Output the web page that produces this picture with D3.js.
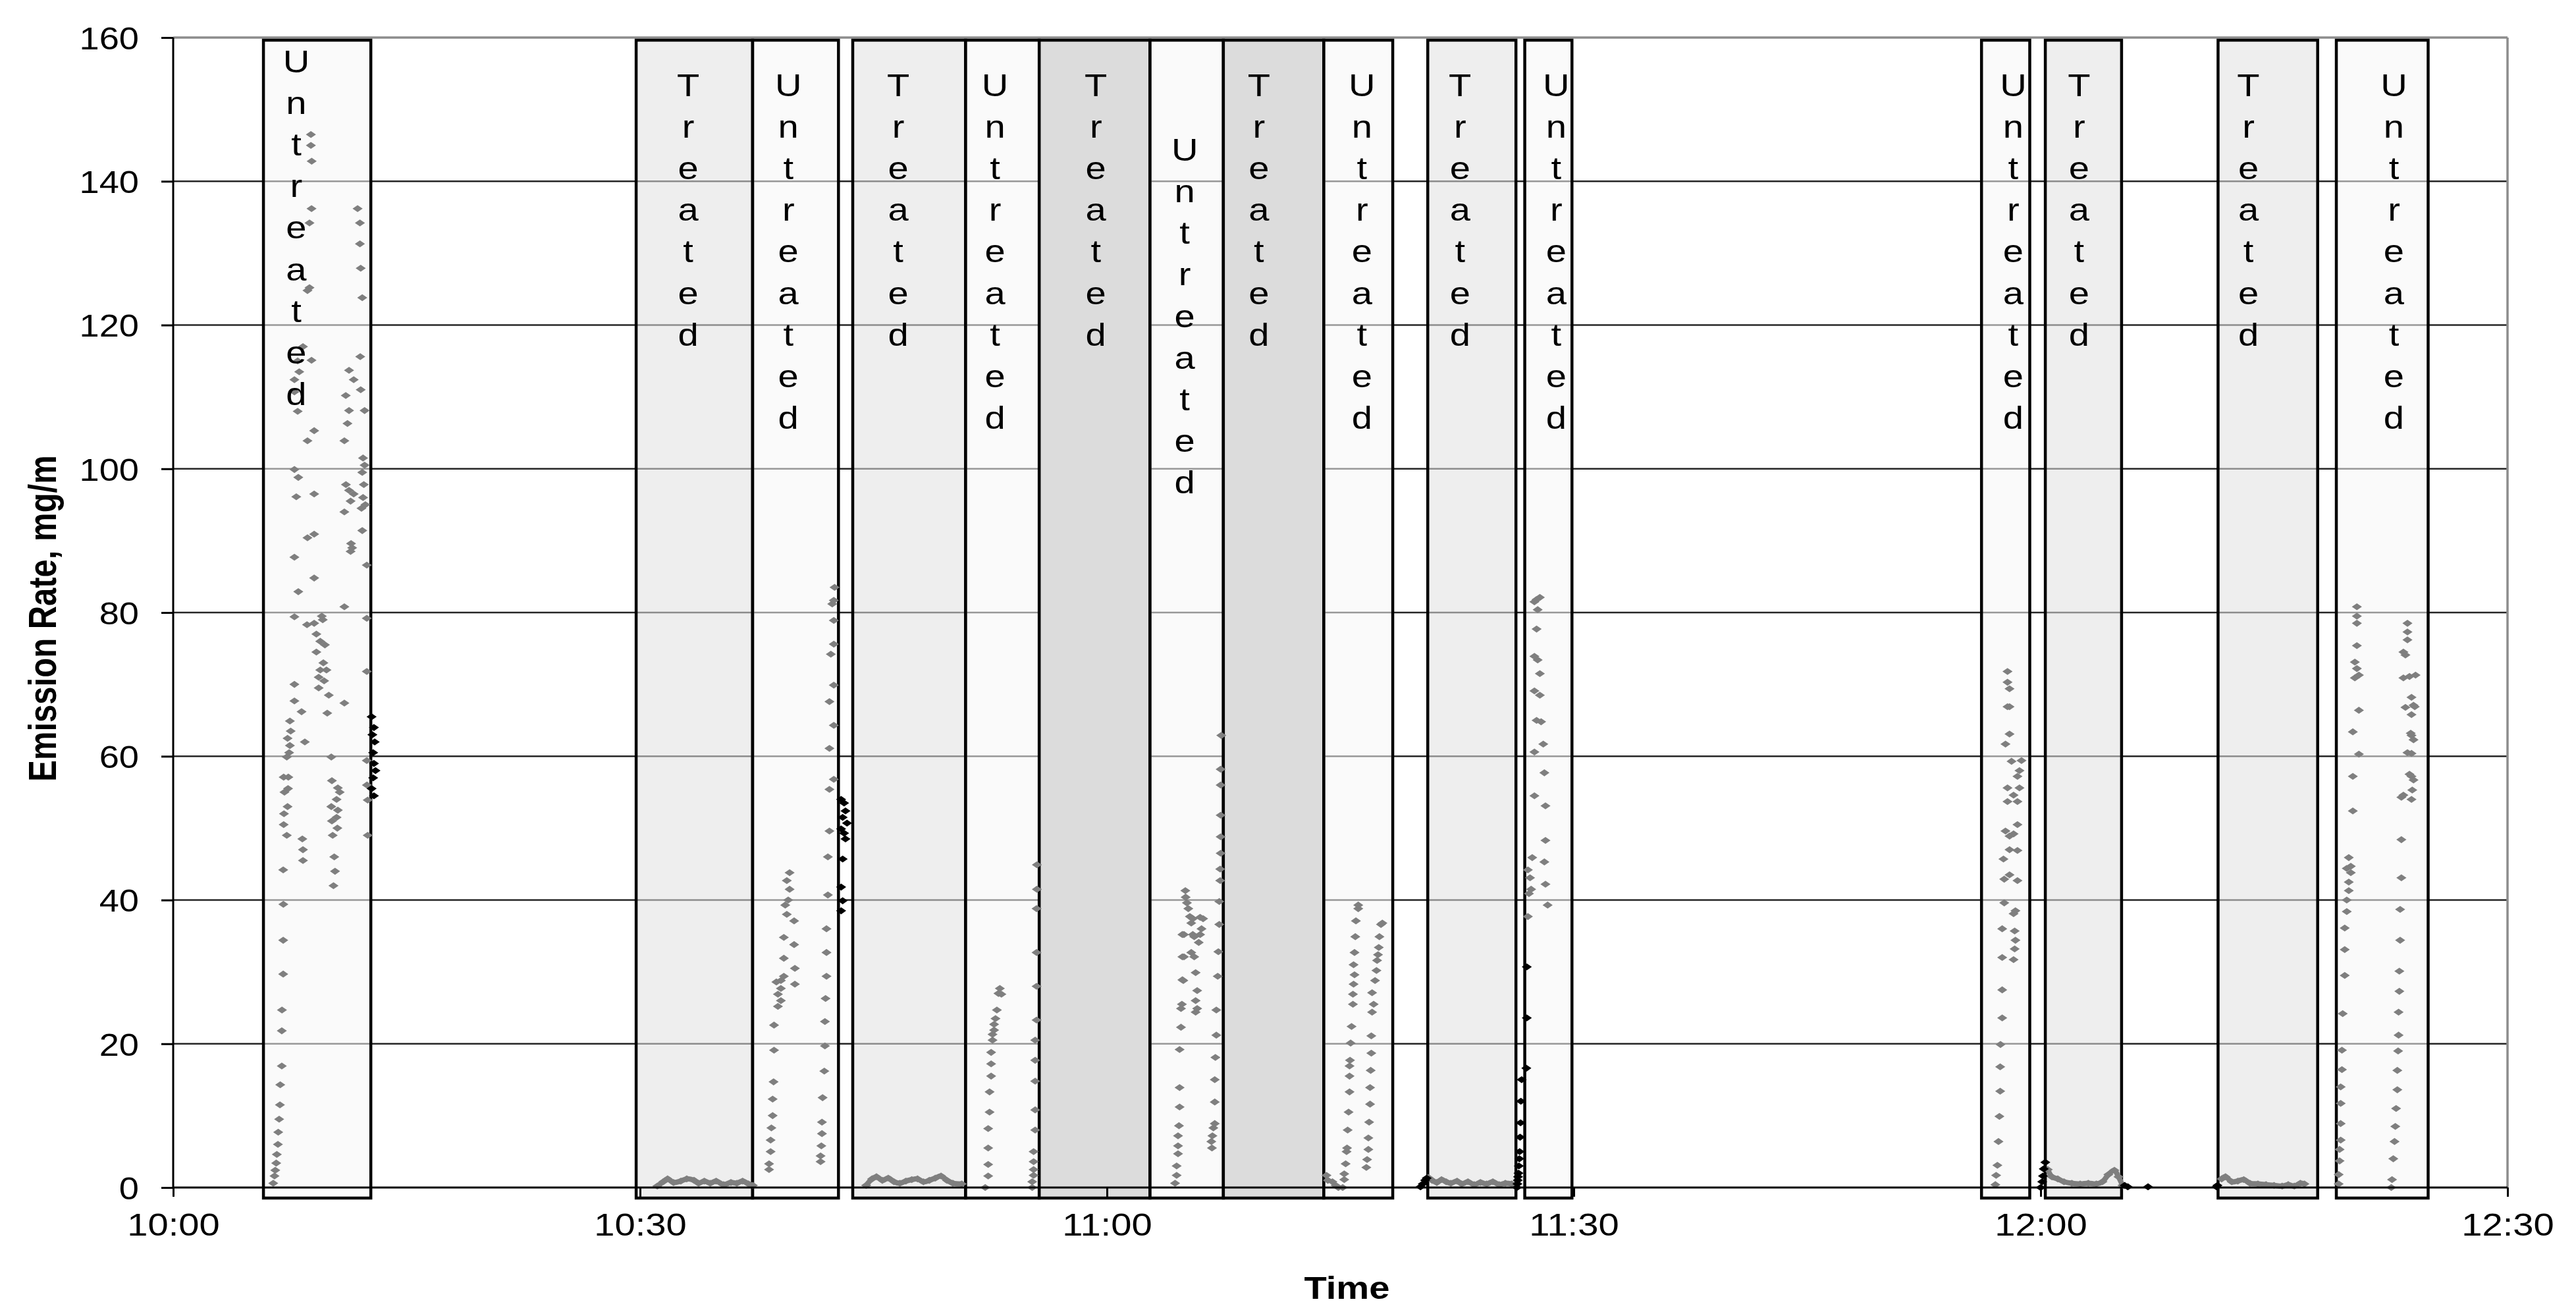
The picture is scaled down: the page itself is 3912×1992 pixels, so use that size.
<!DOCTYPE html>
<html>
<head>
<meta charset="utf-8">
<script src="https://cdn.jsdelivr.net/npm/d3@7"></script>
<style>
  body { margin: 0; background: #fff; }
  text { font-family: "Liberation Sans", Arial, sans-serif; fill: #000; }
</style>
</head>
<body>
<div id="chart"></div>
<script>
// ---- data ----
// runs (boxes): clock start / end and treatment group
var boxStart = ["10:05:48","10:29:45","10:37:14","10:43:40","10:50:55","10:55:39","11:02:46","11:07:29","11:13:56","11:20:37","11:26:51","11:56:12","12:00:18","12:11:24","12:19:00"];
var boxEnd   = ["10:12:42","10:37:14","10:42:45","10:50:55","10:55:39","11:02:46","11:07:29","11:13:56","11:18:22","11:26:17","11:29:53","11:59:18","12:05:12","12:17:48","12:24:54"];
var boxGroup = ["U","T","U","T","U","T2","U","T2","U","T","U","U","T","T","U"];
// where the vertical label sits (minutes after 10:00, value of first letter top)
var labelAt  = [7.91,33.09,39.53,46.59,52.81,59.29,65.0,69.77,76.39,82.69,88.87,118.24,122.47,133.35,142.7];
var labelTop = [158.3,155,155,155,155,155,146,155,155,155,155,155,155,155,155];

var xTicks = ["10:00","10:30","11:00","11:30","12:00","12:30"];
var yTicks = [0,20,40,60,80,100,120,140,160];

// untreated runs: [minutes after 10:00, emission rate]
var u1 = [[6.43,0.6],[6.51,1.6],[6.56,2.4],[6.62,3.4],[6.66,4.6],[6.73,6.0],[6.75,7.7],[6.81,9.5],[6.86,11.5],[6.88,14.3],[6.98,16.9],[6.98,21.8],[6.99,24.7],[7.07,29.7],[7.07,34.4],[7.08,39.4],[7.07,44.2],
  [7.1,50.5],[7.3,49],[7.12,52],[7.35,53],[7.15,55],[7.38,55.5],[7.1,57.1],[7.4,57.1],[7.3,59.9],[7.45,60.5],[7.5,61.5],[7.35,62.5],[7.55,63.5],[7.5,64.9],
  [7.79,67.7],[8.25,66.2],[7.79,70],[8.46,62],[7.79,79.4],[8.04,82.9],[7.79,87.7],[8.63,90.4],[9.06,90.9],[9.06,84.8],[9.06,96.5],[7.79,99.9],[8.04,98.8],[7.91,96.1],[8.63,103.9],[9.06,105.3],[7.79,112.4],[7.79,110.7],[8.0,115],[8.1,113.5],[8.0,108],[8.34,117],[8.89,115.1],[8.76,125.2],[8.63,124.8],[8.89,136.2],[8.76,134.2],[8.85,146.5],[8.85,145],[8.9,142.8],
  [8.6,78.3],[9.06,78.5],[9.2,77],[9.55,79.5],[9.61,79],[9.45,76],[9.75,75.5],[9.2,74.5],[9.45,72],[9.65,73],[9.85,72],[9.35,71],[9.7,70.5],[9.35,69.5],[10.0,68.5],[9.9,66],[10.16,59.9],
  [8.3,48.5],[8.34,47],[8.34,45.5],
  [10.2,56.6],[10.16,53],[10.2,51],[10.25,49],[10.35,46],[10.4,44],[10.3,42],[10.58,55.6],[10.7,55],[10.5,54],[10.58,52.5],[10.5,51.5],[10.55,50],
  [11.0,80.8],[11.0,67.4],[11.09,110.2],[11.3,108.1],[11.0,103.9],[11.2,106.3],[11.3,113.7],[11.6,112.4],[11.1,97.8],[11.3,97],[11.6,96.5],[11.0,94],[11.4,95.5],[11.43,89.6],[11.4,88.5],[11.5,89],
  [11.85,136.2],[12.0,134.2],[12.0,131.3],[12.05,127.9],[12.15,123.8],[12.02,115.6],[12.05,111],[12.3,108.1],[12.2,101.5],[12.3,100.5],[12.15,99.5],[12.25,97.8],[12.2,96],[12.35,95],[12.1,94.5],[12.15,91.4],[12.44,86.6],[12.44,79.2],[12.44,71.8],[12.44,59.4],[12.45,56],[12.5,53.9],[12.5,49]];

var u3 = [[38.29,2.5],[38.29,3.3],[38.39,5.0],[38.39,6.6],[38.44,8.3],[38.52,10.0],[38.52,12.3],[38.58,14.7],[38.61,19.1],[38.61,22.6],[38.86,25.2],[39.05,26.0],[38.86,26.9],[39.05,27.7],[38.76,28.6],[39.05,28.8],[39.24,29.4],[39.24,31.9],[39.24,34.8],[39.43,38.0],[39.33,39.3],[39.52,40.0],[39.61,41.5],[39.43,42.7],[39.61,43.8],[39.9,37.1],[39.9,33.8],[39.95,30.5],[39.95,28.3],
  [41.6,3.6],[41.6,4.4],[41.65,5.8],[41.69,7.5],[41.69,9.1],[41.73,12.5],[41.84,16.2],[41.88,19.7],[41.88,23.1],[41.92,26.3],[41.98,29.4],[41.98,32.7],[41.98,36.0],[42.07,40.7],[42.07,46.0],[42.17,49.6],[42.17,55.4],[42.45,56.8],[42.17,61.1],[42.45,64.3],[42.17,67.6],[42.45,69.9],[42.26,74.2],[42.45,75.6],[42.45,78.9],[42.35,81.2],[42.45,81.7],[42.5,83.5]];

var u5 = [[52.18,0],[52.37,1.6],[52.37,3.2],[52.37,5.5],[52.37,8.2],[52.46,10.5],[52.46,13.3],[52.56,15.5],[52.56,17.2],[52.56,18.8],[52.65,20.5],[52.65,21.3],[52.75,21.9],[52.75,22.7],[52.84,23.5],[52.93,24.7],[53.03,27.0],[53.12,27.7],[53.22,26.9],
  [55.2,0],[55.2,0.8],[55.29,1.7],[55.29,2.5],[55.29,3.6],[55.29,5.0],[55.39,8.0],[55.39,10.8],[55.39,14.8],[55.39,17.7],[55.39,20.5],[55.48,23.3],[55.48,28.0],[55.48,32.7],[55.48,38.8],[55.5,41.5],[55.5,44.9]];

var u7 = [[64.38,0.6],[64.48,1.7],[64.48,3.0],[64.57,4.7],[64.57,5.8],[64.57,7.2],[64.63,8.6],[64.67,11.2],[64.67,13.9],[64.67,19.2],[64.76,22.3],[64.76,24.9],[64.82,25.5],[64.85,28.9],[64.85,32.1],[64.85,35.2],
  [65.04,41.3],[65.06,40.4],[65.14,39.6],[65.23,38.8],[65.33,37.7],[65.42,36.8],[65.52,37.4],
  [65.99,37.6],[66.18,37.4],[66.08,36.0],[65.99,35.2],[65.9,34.1],[65.61,34.9],[65.42,32.7],[65.7,29.9],[65.8,27.4],[65.7,26.0],[65.8,24.9],[65.7,24.4],[65.52,35.2],[65.61,32.1],[64.95,35.2],[64.95,32.1],[64.91,28.8],
  [66.75,5.5],[66.71,6.4],[66.78,7.2],[66.84,8.3],[66.93,8.9],[66.93,11.9],[66.93,15.0],[66.97,18.1],[67.03,21.2],[67.03,24.7],[67.12,29.4],[67.16,32.8],[67.22,36.6],[67.22,39.8],[67.28,42.7],[67.28,44.3],[67.31,46.5],[67.31,48.8],[67.31,51.8],[67.31,56.0],[67.31,58.2],[67.35,62.9]];

var u9 = [[74.11,1.7],[74.2,1.0],[74.49,0.8],[74.7,0.3],[74.87,0],[75.15,0],[75.25,1.1],
  [75.25,1.9],[75.34,3.3],[75.4,5.0],[75.43,5.5],[75.47,8.0],[75.53,10.5],[75.59,13.3],[75.59,15.5],[75.59,16.9],[75.62,17.7],[75.66,20.1],[75.72,22.4],[75.81,25.5],[75.81,26.9],[75.85,28.3],[75.91,29.6],[75.85,31.0],[75.91,32.7],[75.96,34.9],[76.0,37.1],[76.15,38.8],[76.15,39.3],
  [76.67,2.8],[76.72,3.9],[76.8,5.3],[76.8,6.9],[76.85,9.1],[76.91,11.6],[76.91,13.9],[76.95,16.3],[76.99,18.7],[76.99,21.1],[77.04,24.4],[77.14,25.5],[77.04,27.1],[77.23,28.8],[77.32,30.2],[77.36,31.6],[77.42,32.4],[77.47,33.4],[77.51,34.9],[77.61,36.6],[77.7,36.8]];

var u11 = [[87.05,37.7],[88.32,39.3],[87.12,40.9],[87.26,41.5],[88.18,42.2],[87.19,43.1],[87.05,44.2],[88.11,45.3],[87.33,45.9],[88.18,48.3],[88.18,53.1],[87.47,54.5],[88.11,57.7],[87.47,60.6],[88.04,61.7],[87.9,64.8],[87.61,65.0],[87.82,68.5],[87.47,69.1],[87.82,71.5],[87.68,73.4],[87.47,73.9],[87.61,77.7],[87.68,80.4],[87.47,81.5],[87.82,82.1],[87.61,81.8]];

var u12 = [[117.09,0.4],[117.14,1.7],[117.22,3.1],[117.29,6.4],[117.35,9.9],[117.4,13.4],[117.4,16.8],[117.42,19.9],[117.53,23.6],[117.53,27.5],[117.53,32.0],[117.53,36.0],[117.66,39.6],[118.26,38.1],[118.38,38.5],[118.33,35.7],[118.38,34.4],[118.33,33.2],[118.26,31.7],[117.66,42.9],[118.0,43.5],[118.51,42.7],[117.61,45.7],[118.0,47.0],[118.51,46.9],[117.74,49.6],[118.0,48.9],[118.26,49.2],[118.51,50.5],[117.87,53.7],[118.51,53.7],[118.26,54.6],[118.64,55.6],[117.87,55.6],[118.51,57.2],[118.64,58.0],[118.13,59.3],[118.77,59.4],[117.74,61.7],[118.0,63.1],[118.0,66.9],[117.87,66.9],[118.0,69.4],[117.87,70.3],[117.87,71.8]];

var u15 = [[139.15,0.5],[139.15,1.8],[139.21,3.7],[139.21,5.3],[139.28,6.6],[139.28,8.9],[139.28,11.7],[139.28,14.0],[139.36,16.4],[139.36,19.1],[139.41,24.2],[139.54,29.5],[139.54,33.1],[139.54,36.1],[139.67,38.4],[139.67,40.0],[139.8,41.3],[139.8,42.5],[139.93,43.8],[139.67,44.4],[139.93,44.7],[139.8,45.9],[140.06,52.4],[140.06,57.2],[140.45,60.3],[140.06,63.4],[140.45,66.4],[140.19,70.9],[140.45,71.3],[140.32,72.2],[140.19,73.1],[140.32,75.4],[140.32,78.5],[140.32,79.5],[140.32,80.8],
  [142.53,0],[142.58,1.1],[142.66,4.0],[142.74,6.4],[142.79,8.5],[142.84,11.0],[142.92,13.6],[142.92,16.3],[142.97,19.0],[143.0,21.2],[143.0,24.4],[143.05,27.3],[143.05,30.1],[143.1,34.4],[143.1,38.7],[143.18,43.1],[143.18,48.4],[143.18,54.3],[143.31,54.6],[143.83,54.0],[143.88,55.3],[143.83,57.2],[143.96,56.7],[143.7,57.5],[143.57,60.5],[143.83,60.4],[143.83,62.9],[143.96,62.3],[143.78,63.2],[143.83,65.8],[144.04,66.9],[143.44,66.8],[143.83,68.2],[143.96,67.1],[143.31,70.9],[143.7,71.1],[144.09,71.3],[143.44,74.1],[143.31,74.5],[143.57,76.2],[143.57,77.3],[143.57,78.5]];

// treated runs stay near zero
var t2  = [[31.11,0.2],[31.49,0.8],[31.77,1.2],[32.15,0.7],[32.62,0.9],[33.0,1.2],[33.47,1.0],[33.76,0.6],[34.13,0.9],[34.51,0.6],[34.89,0.9],[35.37,0.4],[35.84,0.7],[36.22,0.6],[36.59,0.9],[36.97,0.5],[37.25,0.3]];
var t4  = [[44.53,0.3],[44.91,1.2],[45.19,1.5],[45.57,1.0],[45.95,1.3],[46.32,0.8],[46.7,0.6],[47.08,0.9],[47.46,1.1],[47.83,1.2],[48.21,0.8],[48.59,1.0],[48.97,1.3],[49.34,1.6],[49.72,1.0],[50.1,0.6],[50.67,0.5]];
var t10 = [[80.65,1.4],[80.9,1.0],[81.2,0.7],[81.5,1.1],[81.8,0.8],[82.1,0.6],[82.5,0.9],[82.8,0.5],[83.2,0.8],[83.6,0.4],[84.0,0.7],[84.4,0.5],[84.8,0.8],[85.2,0.4],[85.6,0.6],[86.0,0.5],[86.25,0.3]];
var t13 = [[120.46,2.5],[120.72,1.5],[121.1,1.2],[121.5,0.8],[122.0,0.6],[122.54,0.5],[123.06,0.6],[123.58,0.5],[123.97,0.8],[124.35,1.8],[124.74,2.4],[125.0,1.5],[125.26,0.3]];
var t14 = [[131.63,1.2],[131.88,1.5],[132.28,0.8],[132.67,0.9],[133.05,1.1],[133.45,0.6],[133.96,0.5],[134.48,0.4],[135.0,0.3],[135.52,0.2],[135.91,0.4],[136.3,0.2],[136.69,0.6],[136.95,0.5]];

// points logged between runs (black)
var blk = [[12.75,65.5],[12.9,64],[12.8,63],[12.95,62],[12.85,60.5],[12.9,59],[13.0,58],[12.85,57],[12.75,55.5],[12.9,54.5],
  [42.92,54.0],[43.11,53.5],[43.2,52.4],[43.02,51.5],[43.3,50.7],[42.92,49.9],[43.11,49.3],[43.2,48.5],[43.02,45.7],[42.92,41.8],[43.02,39.9],[42.92,38.5],
  [80.15,0.1],[80.3,0.5],[80.45,1.0],[80.55,1.3],
  [86.35,0],[86.38,0.5],[86.4,1],[86.42,1.5],[86.45,2],[86.47,3],[86.5,4],[86.52,5],[86.55,7],[86.58,9],[86.6,12],[86.65,15],[86.95,16.6],[86.98,23.6],[86.98,30.7],
  [120.0,0],[120.1,0.8],[120.15,1.6],[120.2,2.6],[120.3,3.5],[125.4,0.3],[125.6,0.1],[126.9,0.1],
  [131.3,0.1],[131.36,0.3]];

// ---- chart ----
var W = 3912, H = 1992;
var margin = {top: 57, right: 104, bottom: 189, left: 263};
var sx = 1.17;   // glyphs in the picture are stretched sideways

var parse = d3.timeParse("%H:%M");
var parseS = d3.timeParse("%H:%M:%S");
var t0 = parse("10:00");
function atMin(m) { return new Date(+t0 + m * 60000); }

var x = d3.scaleTime()
    .domain([parse("10:00"), parse("12:30")])
    .range([margin.left, W - margin.right]);
var y = d3.scaleLinear()
    .domain([0, 160])
    .range([H - margin.bottom, margin.top]);

var svg = d3.select("#chart").append("svg")
    .attr("width", W).attr("height", H)
    .style("background", "#fff");

// gridlines
svg.append("g").selectAll("line")
  .data(yTicks.filter(function(d) { return d > 0; }))
  .enter().append("line")
    .attr("x1", x.range()[0]).attr("x2", x.range()[1])
    .attr("y1", function(d) { return y(d); }).attr("y2", function(d) { return y(d); })
    .attr("stroke", function(d) { return d == 160 ? "#8c8c8c" : "#262626"; })
    .attr("stroke-width", function(d) { return d == 160 ? 3.5 : 2.5; });

svg.append("line")
    .attr("x1", x.range()[1]).attr("x2", x.range()[1])
    .attr("y1", y(160)).attr("y2", y(0))
    .attr("stroke", "#8c8c8c").attr("stroke-width", 3.5);

// run boxes
var fills = {U: "#f6f6f6", T: "#e0e0e0", T2: "#dcdcdc"};
var boxes = boxStart.map(function(s, i) {
  return {s: parseS(s), e: parseS(boxEnd[i]), g: boxGroup[i], at: atMin(labelAt[i]), top: labelTop[i]};
});

svg.append("g").selectAll("rect")
  .data(boxes)
  .enter().append("rect")
    .attr("x", function(d) { return x(d.s); })
    .attr("width", function(d) { return x(d.e) - x(d.s); })
    .attr("y", y(160) + 4)
    .attr("height", y(0) - y(160) + 12)
    .attr("fill", function(d) { return fills[d.g]; })
    .attr("fill-opacity", function(d) { return d.g == "T2" ? 1 : 0.55; })
    .attr("stroke", "#000")
    .attr("stroke-width", 4.5);

// markers
var diamond = d3.symbol().type(d3.symbolSquare).size(56)();

function drawPoints(data, color) {
  svg.append("g").selectAll("path")
    .data(data)
    .enter().append("path")
      .attr("d", diamond)
      .attr("fill", color)
      .attr("transform", function(d) {
        return "translate(" + x(atMin(d[0])) + "," + y(d[1]) + ") scale(1.45,1) rotate(45)";
      });
}

var line = d3.line()
    .x(function(d) { return x(atMin(d[0])); })
    .y(function(d) { return y(d[1]); })
    .curve(d3.curveCatmullRom);

[t2, t4, t10, t13, t14].forEach(function(run) {
  svg.append("path")
    .datum(run)
    .attr("d", line)
    .attr("fill", "none")
    .attr("stroke", "#7f7f7f")
    .attr("stroke-width", 8)
    .attr("stroke-linejoin", "round");
  drawPoints(run, "#7f7f7f");
});

[u1, u3, u5, u7, u9, u11, u12, u15].forEach(function(run) {
  drawPoints(run, "#7f7f7f");
});
drawPoints(blk, "#000");

// vertical labels in each box
var lab = svg.append("g").selectAll("g")
  .data(boxes)
  .enter().append("g");

lab.selectAll("text")
  .data(function(d) {
    var word = d.g == "U" ? "Untreated" : "Treated";
    return word.split("").map(function(c, i) { return {c: c, i: i, box: d}; });
  })
  .enter().append("text")
    .attr("text-anchor", "middle")
    .attr("font-size", 48)
    .attr("transform", function(d) {
      return "translate(" + x(d.box.at) + "," + (y(d.box.top) + 34 + d.i * 63.2) + ") scale(" + sx + ",1)";
    })
    .text(function(d) { return d.c; });

// axes
var xAxis = svg.append("g")
    .attr("transform", "translate(0," + y(0) + ")")
    .call(d3.axisBottom(x)
      .tickValues(xTicks.map(parse))
      .tickFormat(d3.timeFormat("%H:%M"))
      .tickSize(14));
xAxis.select(".domain").remove();
xAxis.selectAll(".tick line").attr("stroke", "#000").attr("stroke-width", 3);
xAxis.selectAll(".tick text")
    .attr("y", 73).attr("dy", null)
    .attr("font-size", 48)
    .attr("font-family", "Liberation Sans, Arial, sans-serif")
    .attr("fill", "#000")
    .attr("transform", "scale(" + sx + ",1)");

var yAxis = svg.append("g")
    .attr("transform", "translate(" + margin.left + ",0)")
    .call(d3.axisLeft(y).tickValues(yTicks).tickSize(18));
yAxis.select(".domain").remove();
yAxis.selectAll(".tick line").attr("stroke", "#000").attr("stroke-width", 3);
yAxis.selectAll(".tick text")
    .attr("x", 0).attr("dy", "0.36em")
    .attr("font-size", 48)
    .attr("font-family", "Liberation Sans, Arial, sans-serif")
    .attr("fill", "#000")
    .attr("transform", "translate(-52,0) scale(1.13,1)");

// axis lines
svg.append("line")
    .attr("x1", margin.left).attr("x2", x.range()[1])
    .attr("y1", y(0)).attr("y2", y(0))
    .attr("stroke", "#000").attr("stroke-width", 3);
svg.append("line")
    .attr("x1", margin.left).attr("x2", margin.left)
    .attr("y1", y(160)).attr("y2", y(0))
    .attr("stroke", "#000").attr("stroke-width", 3);

// titles
svg.append("text")
    .attr("text-anchor", "middle")
    .attr("font-size", 48)
    .attr("font-weight", "bold")
    .attr("transform", "translate(" + ((x.range()[0] + x.range()[1]) / 2 + 10) + ",1972) scale(" + sx + ",1)")
    .text("Time");

svg.append("text")
    .attr("text-anchor", "middle")
    .attr("font-size", 49)
    .attr("font-weight", "bold")
    .attr("transform", "translate(85," + ((y(0) + y(160)) / 2 + 9) + ") rotate(-90) scale(1,1.2)")
    .text("Emission Rate, mg/m");
</script>
</body>
</html>
